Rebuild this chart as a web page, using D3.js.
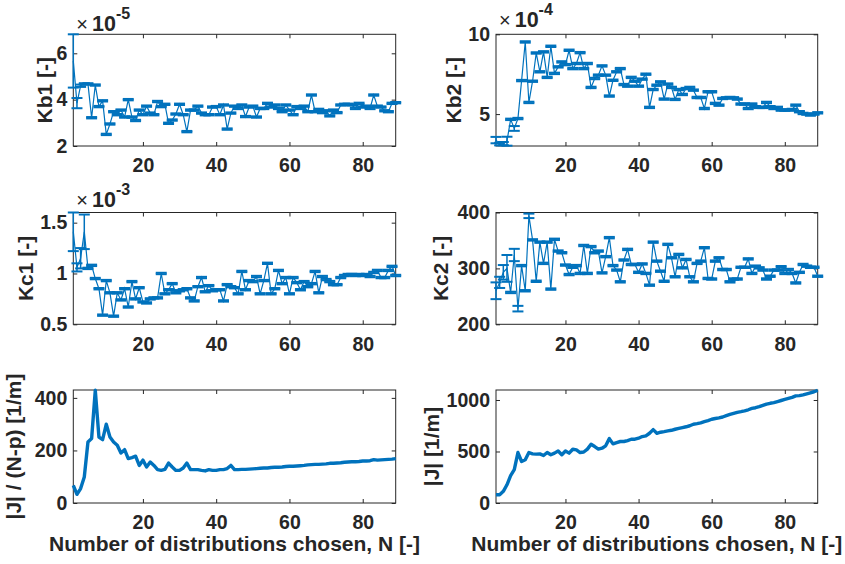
<!DOCTYPE html>
<html><head><meta charset="utf-8">
<script src="https://cdn.jsdelivr.net/npm/d3@7"></script>
<style>body{margin:0;background:#fff}</style>
</head><body>
<svg id="c" width="845" height="564"></svg>
<script>
// ---- data (N = 1..89, index + 1) ----
const kb1Val=[5.67,3.85,4.6,4.68,4.68,3.22,4.63,3.7,3.95,2.5,
2.95,3.48,3.35,3.55,3.25,4.0,3.25,3.1,3.55,3.35,
3.72,3.42,3.35,3.92,3.7,3.8,2.98,3.12,3.38,3.8,
3.35,2.62,3.55,3.55,3.72,3.42,3.35,3.35,3.68,3.7,
3.35,3.77,2.73,3.42,3.72,3.62,3.77,3.27,3.68,3.72,
3.25,3.62,3.62,3.84,3.68,3.77,3.62,3.48,3.77,3.55,
3.35,3.7,3.62,3.72,3.48,4.2,3.48,3.58,3.44,3.52,
3.3,3.55,3.44,3.77,3.8,3.8,3.77,3.62,3.84,3.68,
3.72,3.62,4.2,3.72,3.68,3.52,3.48,3.84,3.87];
const kb1Err=[1.15,0.22,0.05,0.03,0.03,0.03,0.03,0.03,0.03,0.03,
0.03,0.03,0.03,0.03,0.03,0.03,0.03,0.03,0.03,0.03,
0.03,0.03,0.03,0.03,0.03,0.03,0.03,0.03,0.03,0.03,
0.03,0.03,0.03,0.03,0.03,0.03,0.03,0.03,0.03,0.03,
0.03,0.03,0.03,0.03,0.03,0.03,0.03,0.03,0.03,0.03,
0.03,0.03,0.03,0.03,0.03,0.03,0.03,0.03,0.03,0.03,
0.03,0.03,0.03,0.03,0.03,0.03,0.03,0.03,0.03,0.03,
0.03,0.03,0.03,0.03,0.03,0.03,0.03,0.03,0.03,0.03,
0.03,0.03,0.03,0.03,0.03,0.03,0.03,0.03,0.03];

const kb2Val=[3.37,3.12,3.15,3.3,4.67,4.1,4.72,7.1,9.52,5.73,
7.06,8.83,7.65,8.9,7.3,9.25,7.55,7.96,8.27,8.1,
9.0,7.85,8.17,8.85,7.85,8.17,6.67,7.23,7.44,8.02,
7.44,6.13,7.12,7.65,7.85,6.85,6.75,7.3,7.06,6.75,
7.19,7.5,5.42,6.54,6.81,7.02,5.94,6.88,6.67,5.92,
6.54,6.23,6.6,6.67,6.5,6.04,6.04,5.35,6.4,6.4,
5.67,5.56,5.98,6.02,6.04,6.02,5.94,5.63,5.63,5.35,
5.63,5.46,5.42,5.42,5.73,5.46,5.35,5.42,5.25,5.25,
5.25,5.29,5.56,5.15,5.04,5.0,4.94,5.0,5.08];
const kb2Err=[0.2,0.08,0.1,0.28,0.045,0.15,0.045,0.045,0.045,0.045,
0.045,0.045,0.045,0.045,0.045,0.045,0.045,0.045,0.045,0.045,
0.045,0.045,0.045,0.045,0.045,0.045,0.045,0.045,0.045,0.045,
0.045,0.045,0.045,0.045,0.045,0.045,0.045,0.045,0.045,0.045,
0.045,0.045,0.045,0.045,0.045,0.045,0.045,0.045,0.045,0.045,
0.045,0.045,0.045,0.045,0.045,0.045,0.045,0.045,0.045,0.045,
0.045,0.045,0.045,0.045,0.045,0.045,0.045,0.045,0.045,0.045,
0.045,0.045,0.045,0.045,0.045,0.045,0.045,0.045,0.045,0.045,
0.045,0.045,0.045,0.045,0.045,0.045,0.045,0.045,0.045];

const kc1Val=[1.41,1.06,1.15,1.41,1.05,1.08,0.95,0.85,0.59,0.93,
0.81,0.58,0.81,0.74,0.85,0.67,0.92,0.75,0.86,0.72,
0.71,0.75,0.76,0.76,1.0,0.8,0.84,0.9,0.81,0.83,
0.84,0.85,0.76,0.73,0.87,0.96,0.82,0.88,0.83,0.84,
0.84,0.73,0.89,0.87,0.86,0.8,1.02,0.84,0.93,0.92,
0.97,0.8,0.93,1.1,0.8,0.85,1.03,0.9,0.96,0.8,
0.96,0.91,0.84,0.92,0.87,0.9,1.02,0.81,0.97,0.94,
0.92,0.89,0.89,0.96,0.98,0.99,0.99,0.98,0.99,0.98,
0.99,0.97,1.01,1.03,0.96,0.96,1.03,1.07,0.98];
const kc1Err=[0.19,0.04,0.1,0.17,0.007,0.007,0.007,0.007,0.007,0.007,
0.007,0.007,0.007,0.007,0.007,0.007,0.007,0.007,0.007,0.007,
0.007,0.007,0.007,0.007,0.007,0.007,0.007,0.007,0.007,0.007,
0.007,0.007,0.007,0.007,0.007,0.007,0.007,0.007,0.007,0.007,
0.007,0.007,0.007,0.007,0.007,0.007,0.007,0.007,0.007,0.007,
0.007,0.007,0.007,0.007,0.007,0.007,0.007,0.007,0.007,0.007,
0.007,0.007,0.007,0.007,0.007,0.007,0.007,0.007,0.007,0.007,
0.007,0.007,0.007,0.007,0.007,0.007,0.007,0.007,0.007,0.007,
0.007,0.007,0.007,0.007,0.007,0.007,0.007,0.007,0.007];

const kc2Val=[260,275,293,300,257,324,228,305,260,394,
351,277,347,309,347,263,352,331,328,306,
289,302,305,291,341,291,339,328,331,292,
321,355,305,297,276,315,334,307,307,293,
308,291,270,347,313,295,277,343,319,285,
325,301,316,285,276,309,313,337,282,281,
313,319,298,298,276,281,281,302,302,317,
291,304,301,297,281,286,297,297,303,291,
298,291,274,293,307,304,302,302,286];
const kc2Err=[15,10,13,24,1.3,11,5,1.3,1.3,4,
1.3,1.3,1.3,1.3,1.3,1.3,1.3,1.3,1.3,1.3,
1.3,1.3,1.3,1.3,1.3,1.3,1.3,1.3,1.3,1.3,
1.3,1.3,1.3,1.3,1.3,1.3,1.3,1.3,1.3,1.3,
1.3,1.3,1.3,1.3,1.3,1.3,1.3,1.3,1.3,1.3,
1.3,1.3,1.3,1.3,1.3,1.3,1.3,1.3,1.3,1.3,
1.3,1.3,1.3,1.3,1.3,1.3,1.3,1.3,1.3,1.3,
1.3,1.3,1.3,1.3,1.3,1.3,1.3,1.3,1.3,1.3,
1.3,1.3,1.3,1.3,1.3,1.3,1.3,1.3,1.3];

const jNpVal=[67,33,55,99,232,245,429,251,241,300,
251,232,220,190,203,169,173,178,143,163,
137,156,143,127,124,128,152,137,124,124,
133,152,127,127,127,124,122,127,124,124,
127,127,131,143,127,127,128,128,129,130,
131,132,133,133,135,136,136,137,139,140,
140,141,142,143,145,146,147,147,148,149,
151,151,152,153,155,156,157,157,158,160,
160,161,165,163,164,165,166,167,169];

const jVal=[80,80,113,177,265,323,490,403,420,490,
477,474,477,461,490,468,484,505,468,505,
484,522,516,490,495,523,570,548,523,532,
555,625,574,587,597,597,606,619,619,629,
645,652,677,712,677,687,693,700,706,716,
724,732,740,750,765,770,778,790,800,813,
820,826,835,848,860,870,880,887,895,905,
918,925,935,948,960,968,975,985,995,1005,
1015,1025,1040,1042,1050,1060,1070,1080,1093];

const xTicks=[20,40,60,80];
const kb1Ticks=[2,4,6];
const kb2Ticks=[5,10];
const kc1Ticks=[0.5,1,1.5];
const kc2Ticks=[200,300,400];
const jNpTicks=[0,200,400];
const jTicks=[0,500,1000];

// ---- drawing ----
const svg=d3.select('#c');
const FONT='"Liberation Sans", Arial, Helvetica, sans-serif';
const AX='#262626', BLUE='#0072BD';

function panel(o){
  const x=d3.scaleLinear().domain([1,89]).range([o.x0,o.x1]);
  const y=d3.scaleLinear().domain(o.yDom).range([o.y1,o.y0]);
  const g=svg.append('g');
  const styleAxis=a=>{a.select('.domain').remove();a.selectAll('line').attr('stroke',AX);
    a.selectAll('text').attr('fill',AX).attr('font-family',FONT).attr('font-weight','bold').attr('font-size',19.5);};
  g.append('g').attr('transform',`translate(0,${o.y1})`)
   .call(d3.axisBottom(x).tickValues(xTicks).tickSizeInner(-4).tickSizeOuter(0).tickPadding(12.5).tickFormat(d3.format('d')))
   .call(styleAxis);
  g.append('g').attr('transform',`translate(0,${o.y0})`)
   .call(d3.axisTop(x).tickValues(xTicks).tickSizeInner(-4).tickSizeOuter(0).tickFormat(''))
   .call(styleAxis);
  g.append('g').attr('transform',`translate(${o.x0},0)`)
   .call(d3.axisLeft(y).tickValues(o.ticks).tickSizeInner(-4).tickSizeOuter(0).tickPadding(6).tickFormat(d=>String(d)))
   .call(styleAxis);
  g.append('g').attr('transform',`translate(${o.x1},0)`)
   .call(d3.axisRight(y).tickValues(o.ticks).tickSizeInner(-4).tickSizeOuter(0).tickFormat(''))
   .call(styleAxis);
  g.append('rect').attr('x',o.x0).attr('y',o.y0).attr('width',o.x1-o.x0).attr('height',o.y1-o.y0)
   .attr('fill','none').attr('stroke',AX).attr('stroke-width',1);

  const line=d3.line().x((d,i)=>x(i+1)).y(d=>y(d));
  if(o.err){
    const cw=5.5;
    const eb=g.append('g').attr('stroke',BLUE).attr('stroke-width',1.5).attr('fill','none');
    o.vals.forEach((v,i)=>{
      const e=o.err[i], xx=x(i+1), ya=y(v+e), yb=y(v-e);
      eb.append('line').attr('x1',xx).attr('x2',xx).attr('y1',ya).attr('y2',yb);
      eb.append('line').attr('x1',xx-cw).attr('x2',xx+cw).attr('y1',ya).attr('y2',ya).attr('stroke-width',2);
      eb.append('line').attr('x1',xx-cw).attr('x2',xx+cw).attr('y1',yb).attr('y2',yb).attr('stroke-width',2);
    });
    g.append('path').datum(o.vals).attr('d',line).attr('fill','none').attr('stroke',BLUE).attr('stroke-width',1.2);
  } else {
    g.append('path').datum(o.vals).attr('d',line).attr('fill','none').attr('stroke',BLUE)
     .attr('stroke-width',3.4).attr('stroke-linejoin','round');
  }
  // y label
  g.append('text').attr('transform',`translate(${o.ylx},${(o.y0+o.y1)/2}) rotate(-90)`)
   .attr('text-anchor','middle').attr('fill',AX).attr('font-family',FONT).attr('font-weight','bold')
   .attr('font-size',21).text(o.ylabel);
  if(o.exp){
    const t=g.append('text').attr('x',o.x0+3).attr('y',o.expY).attr('fill',AX)
      .attr('font-family',FONT).attr('font-size',20);
    t.append('tspan').attr('font-size',20).attr('font-weight','normal').text('\u00d7');
    t.append('tspan').attr('font-size',21.5).attr('font-weight','bold').attr('dx',4).text('10');
    t.append('tspan').attr('dy',-12).attr('font-size',16).attr('font-weight','bold').text(o.exp);
  }
  if(o.xlabel){
    g.append('text').attr('x',(o.x0+o.x1)/2).attr('y',551).attr('text-anchor','middle').attr('fill',AX)
     .attr('font-family',FONT).attr('font-weight','bold').attr('font-size',21).text(o.xlabel);
  }
}

const L={x0:73.3,x1:395.7}, R={x0:496,x1:817.7};
const R1={y0:34.3,y1:146}, R2={y0:212.5,y1:324.3}, R3={y0:390,y1:503};
const XL='Number of distributions chosen, N [-]';

panel({...L,...R1,yDom:[2,6.82],ticks:kb1Ticks,vals:kb1Val,err:kb1Err,ylabel:'Kb1 [-]',ylx:52,exp:'-5',expY:30.7});
panel({...R,...R1,yDom:[3,10],ticks:kb2Ticks,vals:kb2Val,err:kb2Err,ylabel:'Kb2 [-]',ylx:461,exp:'-4',expY:27});
panel({...L,...R2,yDom:[0.5,1.6],ticks:kc1Ticks,vals:kc1Val,err:kc1Err,ylabel:'Kc1 [-]',ylx:33,exp:'-3',expY:206.5});
panel({...R,...R2,yDom:[200,400],ticks:kc2Ticks,vals:kc2Val,err:kc2Err,ylabel:'Kc2 [-]',ylx:448});
panel({...L,...R3,yDom:[0,430],ticks:jNpTicks,vals:jNpVal,ylabel:'|J| / (N-p) [1/m]',ylx:21,xlabel:XL});
panel({...R,...R3,yDom:[0,1097],ticks:jTicks,vals:jVal,ylabel:'|J| [1/m]',ylx:439,xlabel:XL});
</script>
</body></html>
